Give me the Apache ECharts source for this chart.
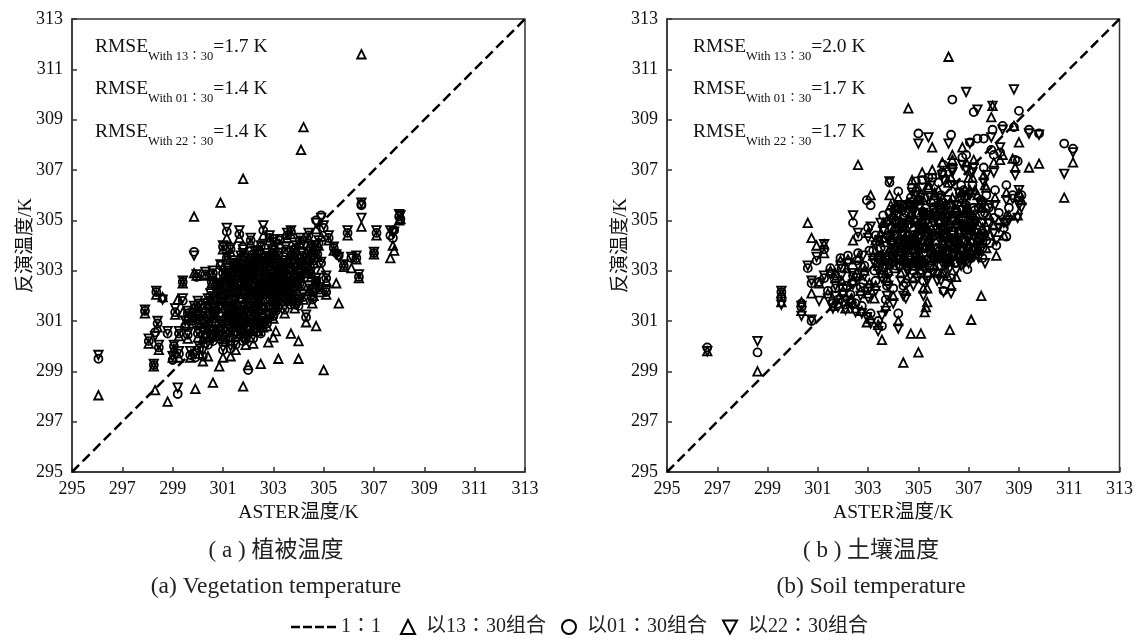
<!DOCTYPE html>
<html>
<head>
<meta charset="utf-8">
<title>chart</title>
<script src="https://cdn.jsdelivr.net/npm/echarts@6/dist/echarts.min.js"></script>
<style>
  html, body { margin: 0; padding: 0; background: #fff; }
  #main { width: 1136px; height: 640px; }
</style>
</head>
<body>
<div id="main"></div>
<script>
var tickValues = [295, 297, 299, 301, 303, 305, 307, 309, 311, 313];
var lineEnds = [295, 313];
var xName = "ASTER温度/K";
var yName = "反演温度/K";
var lineName = "1∶1";
var name1330 = "以13∶30组合";
var name0130 = "以01∶30组合";
var name2230 = "以22∶30组合";

// 植被温度: ASTER value and the three retrievals
var vegAster = [
  296.05,297.9,298.05,298.25,298.3,298.35,298.4,298.45,298.6,298.8,
  299,299.05,299.1,299.2,299.25,299.25,299.4,299.4,299.5,299.6,
  299.7,299.8,299.85,299.85,299.9,299.95,300,300,300.05,300.1,
  300.2,300.2,300.3,300.3,300.4,300.4,300.5,300.55,300.6,300.6,
  300.7,300.7,300.75,300.85,300.85,300.9,300.9,301,301,301,
  301,301.05,301.1,301.15,301.15,301.2,301.2,301.3,301.3,301.3,
  301.4,301.4,301.4,301.5,301.5,301.5,301.55,301.6,301.65,301.65,
  301.7,301.7,301.75,301.8,301.8,301.8,301.85,301.9,301.9,301.95,
  302,302,302,302.05,302.1,302.1,302.2,302.2,302.25,302.3,
  302.3,302.4,302.4,302.45,302.5,302.5,302.5,302.6,302.6,302.6,
  302.7,302.7,302.75,302.8,302.8,302.85,302.9,302.9,303,303,
  303,303,303.05,303.1,303.1,303.15,303.2,303.2,303.25,303.3,
  303.3,303.4,303.4,303.45,303.5,303.5,303.55,303.6,303.7,303.7,
  303.7,303.75,303.8,303.85,303.9,303.9,304,304,304,304.05,
  304.1,304.1,304.15,304.2,304.2,304.3,304.3,304.35,304.4,304.4,
  304.5,304.5,304.55,304.6,304.6,304.7,304.7,304.7,304.75,304.8,
  304.85,304.9,304.9,305,305.1,305.1,305.2,305.4,305.5,305.6,
  305.8,305.95,306.1,306.3,306.4,306.5,306.5,307.1,307,307.65,
  307.75,307.8,308,308.05,301.35,301.95,302.35,302.65,303.35,303.65,
  301.25,301.45,301.6,301.85,302.15,302.35,302.55,302.75,303.1,303.35,
  300.95,301.1,301.35,301.55,301.75,302.05,302.25,302.45,302.65,302.95,
  300.45,300.65,300.8,301.2,301.5,301.7,301.9,302.15,302.4,302.85,
  303.25,303.55,303.8,303.95,304.25,304.45,304.65,303.05,302.95,303.6,
  300.3,300.5,300.7,300.9,301.1,301.3,301.5,301.7,301.9,302.1,
  301.2,301.4,301.6,301.8,302,302.2,302.4,302.6,302.8,303,
  302.2,302.4,302.6,302.8,303,303.2,303.4,303.6,303.8,304,
  299.6,299.8,300,300.2,300.4,300.6,300.8,301,301.2,301.4,
  301.65,301.85,302.05,302.25,302.45,302.65,302.85,303.05,303.25,303.45,
  303.65,303.85,304.05,304.25,301.55,301.75,301.95,302.15,302.35,302.55
];
var vegWith1330 = [
  298.05,301.3,300.1,299.2,298.25,302.05,300.75,299.85,301.95,297.8,
  299.55,299.9,301.25,301.85,299.55,300.4,302.5,301.35,300.9,300.3,
  299.55,301.2,305.15,302.9,298.3,302.8,300.35,301.6,299.7,300.9,
  299.4,300.3,302.8,301.5,299.6,300.7,301.9,302.5,298.55,302.85,
  300.4,301.3,301.9,299.2,300.75,305.7,302.35,299.55,300.6,301.5,
  303.85,302.1,300.2,304.3,303.45,300.9,301.9,299.6,300.4,303.75,
  301.2,302.5,300.8,299.85,301.6,302.8,303.1,300.4,304.3,301.95,
  300.9,303.4,302.4,306.65,298.4,303.55,301.3,300.05,302.8,301.7,
  299.25,302.2,303.3,300.8,301.5,304.1,302.7,300.1,303.6,301.1,
  302.3,300.6,303.1,301.8,299.3,302.6,303.85,304.4,301.3,300.75,
  302.1,303.5,303,300.15,301.65,304.2,302.5,303.35,300.35,301.5,
  302.3,303.1,304,300.6,301.9,302.75,299.5,303.5,304.05,302.4,
  301.8,303.2,302.7,301.3,302,303.75,304.3,302.5,300.5,303.3,
  304.45,302,302.9,301.5,302.4,303.8,299.5,300.2,303.1,304.1,
  307.8,302.7,303.5,308.7,301.85,300.95,302.9,303.55,302.2,304.3,
  302.75,303.8,301.7,302,303.3,300.8,304.65,302.45,303.55,304,
  302.15,303.05,304.35,299.05,302.6,302.05,304.2,303.8,302.5,301.7,
  303.15,304.4,303.1,303.45,302.7,311.6,304.75,304.4,303.65,303.5,
  304,303.8,305,305.05,302.3,302.6,302.2,301.6,302.6,301.9,
  301,301.7,302.2,302.2,301.9,303.6,300.9,300.8,302.55,303,
  301.8,302.7,301.4,302.4,300.7,303,301,302.1,303,301.9,
  301,301.6,302.3,302.9,300.9,303,301.2,302.9,301.9,302.2,
  303,302.3,303.5,302.2,303.3,303.1,303.8,302.9,303.6,301.9,
  300.5,300.4,301,301.9,301.3,302.2,300.6,300.5,300.6,300.6,
  302.6,303.2,301.3,302.9,301.9,301.4,301.5,302.1,302.3,301.1,
  303,303.3,302.6,303.2,303.6,302.3,302.2,301.8,302.5,302.7,
  301.2,300.9,301.3,301.1,301.7,301.3,300.4,302.8,301.4,301.1,
  302.6,303,302.5,302.8,302.2,303.3,303.2,302.4,302.1,303.1,
  302.3,303.6,302.4,302.9,303,301.1,302.4,303.4,300.9,303.1
];
var vegWith0130 = [
  299.5,301.4,300.2,299.25,300.55,302.15,300.9,299.95,301.9,300.5,
  299.45,300,301.35,298.1,299.7,300.5,302.55,301.8,300.8,300.45,
  299.65,301.1,303.75,301.5,299.55,302.75,300.5,301.7,299.9,301,
  299.6,300.45,302.85,301.6,300.05,300.85,302,302.55,300.2,302.9,
  300.55,301.4,302,300.3,300.9,303.2,302.45,299.85,300.7,301.6,
  303.95,302.2,300.35,304.55,303.5,301,302,299.9,300.55,303.85,
  301.3,302.55,300.9,300.05,301.7,302.9,303.2,300.5,304.45,302.05,
  301.05,303.5,302.5,303.95,300.2,303.6,301.45,300.25,302.9,301.8,
  299.05,302.3,303.4,300.95,301.6,304.2,302.8,300.3,303.7,301.25,
  302.4,300.8,303.2,301.9,300.5,302.7,303.95,304.6,301.45,300.9,
  302.2,303.6,303.1,301.1,301.75,304.3,302.6,303.45,301.2,301.6,
  302.4,303.2,304.15,301.4,302,302.85,301.55,303.6,304.2,302.5,
  301.9,303.3,302.8,301.45,302.1,303.85,304.4,302.6,301.65,303.4,
  304.55,302.1,303,301.65,302.5,303.9,301.6,301.8,303.2,304.2,
  303.05,302.8,303.6,304.05,301.95,301.15,303,303.65,302.3,304.4,
  302.85,303.9,301.85,302.15,303.4,302.6,305,302.5,303.65,304.1,
  302.25,303.3,305.2,304.7,302.7,302.15,304.3,303.9,303.7,303.6,
  303.2,304.5,303.5,303.5,302.75,305.65,305.6,304.5,303.7,304.4,
  304.3,304.6,305.15,305.05,302.35,302.7,301.7,302.4,303.1,303,
  301.1,301.8,302.3,302.3,302,303.7,301,300.9,302.65,303.1,
  301.9,302.8,301.5,302.5,300.8,303.1,301.1,302.2,303.1,302,
  301.1,301.7,302.4,303,301,303.1,301.3,303,302,302.3,
  303.1,302.4,303.6,302.3,303.4,303.2,303.9,303,303.7,302,
  300.65,300.5,301.1,302,301.45,302.3,300.75,300.65,300.75,300.7,
  302.7,303.3,301.45,303,302,301.5,301.6,302.2,302.4,301.2,
  303.1,303.4,302.7,303.3,303.7,302.4,302.3,301.9,302.6,302.8,
  301.3,301,301.4,301.2,301.8,301.4,300.5,302.9,301.5,301.2,
  302.7,303.1,302.6,302.9,302.3,303.4,303.3,302.5,302.2,303.2,
  302.4,303.7,302.5,303,303.1,301.2,302.5,303.5,301,303.2
];
var vegWith2230 = [
  299.65,301.45,300.3,299.3,300.4,302.2,301,300.05,301.85,300.6,
  299.6,300.05,301.5,298.35,299.8,300.6,302.6,301.9,301,300.5,
  299.8,301.3,303.6,301.6,299.7,302.85,300.6,301.8,300,301.05,
  299.8,300.55,302.95,301.7,300.15,300.95,302.1,302.6,300.3,303,
  300.65,301.5,302.1,300.4,301,303.25,302.5,299.95,300.85,301.7,
  304,302.3,300.45,304.7,303.55,301.1,302.05,300,300.65,303.9,
  301.45,302.65,301,300.15,301.8,303,303.3,300.65,304.6,302.15,
  301.15,303.6,302.6,303.85,300.3,303.7,301.55,300.35,303,301.9,
  300.35,302.4,303.5,301.05,301.7,304.3,302.9,300.4,303.8,301.35,
  302.5,300.9,303.3,302,300.6,302.8,304,304.8,301.55,301,
  302.3,303.7,303.2,301.2,301.85,304.4,302.7,303.55,301.3,301.7,
  302.5,303.3,304.25,301.5,302.1,302.95,301.65,303.7,304.25,302.6,
  302,303.4,302.9,301.55,302.2,303.95,304.5,302.7,301.75,303.5,
  304.6,302.2,303.1,301.75,302.6,304,301.7,301.9,303.3,304.3,
  303.15,302.9,303.7,304.15,302.05,301.25,303.1,303.75,302.4,304.5,
  302.95,304,301.95,302.25,303.5,302.7,304.9,302.55,303.75,304.2,
  302.35,303.35,305.1,304.8,302.8,302.2,304.4,303.95,303.65,303.55,
  303.25,304.6,303.55,303.6,302.85,305.7,305.1,304.6,303.75,304.6,
  304.5,304.55,305.25,305.2,302.45,302.75,301.8,302.5,303.15,303.05,
  301.2,301.9,302.4,302.4,302.1,303.8,301.1,301,302.75,303.2,
  302,302.9,301.6,302.6,300.9,303.2,301.2,302.3,303.2,302.1,
  301.2,301.8,302.5,303.1,301.1,303.2,301.4,303.1,302.1,302.4,
  303.2,302.5,303.7,302.4,303.5,303.3,304,303.1,303.8,302.1,
  300.75,300.6,301.2,302.1,301.55,302.4,300.85,300.75,300.85,300.85,
  302.8,303.4,301.55,303.1,302.1,301.6,301.7,302.3,302.5,301.3,
  303.2,303.5,302.8,303.4,303.8,302.5,302.4,302,302.7,302.9,
  301.4,301.1,301.5,301.3,301.9,301.5,300.6,303,301.6,301.3,
  302.8,303.2,302.7,303,302.4,303.5,303.4,302.6,302.3,303.3,
  302.5,303.8,302.6,303.1,303.2,301.3,302.6,303.6,301.1,303.3
];

// 土壤温度
var soilAster = [
  296.6,298.6,299.55,299.55,300.35,300.35,300.6,300.75,300.75,300.95,
  301.05,301.25,301.25,301.4,301.5,301.6,301.7,301.8,301.9,302,
  302.1,302.2,302.3,302.4,302.4,302.5,302.6,302.6,302.7,302.75,
  302.85,302.95,303,303,303.1,303.1,303.2,303.3,303.3,303.4,
  303.4,303.55,303.55,303.6,303.7,303.8,303.85,303.85,303.9,304,
  304,304.1,304.2,304.2,304.3,304.3,304.4,304.4,304.5,304.6,
  304.6,304.7,304.7,304.8,304.8,304.9,305,305,305,305.1,
  305.1,305.2,305.2,305.25,305.3,305.35,305.4,305.4,305.55,305.6,
  305.6,305.7,305.8,305.8,305.9,305.9,306,306,306,306.1,
  306.1,306.2,306.2,306.25,306.3,306.3,306.35,306.4,306.5,306.5,
  306.6,306.7,306.7,306.8,306.9,306.9,306.95,307,307.05,307.1,
  307.2,307.2,307.35,307.35,307.5,307.5,307.6,307.6,307.7,307.8,
  307.9,307.95,308,308,308.1,308.2,308.35,308.4,308.5,308.5,
  308.75,308.8,308.95,309,309,309.1,309.4,309.8,310.8,311.15,
  303.5,303.65,303.75,303.95,304.05,304.15,304.25,304.35,304.45,304.55,
  304.65,304.75,304.85,304.95,305.05,305.15,305.25,305.35,305.45,305.65,
  305.75,305.85,305.95,306.05,306.15,306.25,306.35,306.45,306.55,306.65,
  306.75,306.85,306.95,307.05,307.15,307.25,307.45,307.55,307.65,307.85,
  304.1,304.3,304.5,304.7,304.9,305.1,305.3,305.5,305.7,305.9,
  306.1,306.3,306.5,306.7,306.9,307.1,303.9,304.4,304.8,305.2,
  303.6,303.8,304,304.2,304.4,304.6,304.8,305,305.2,305.4,
  305.6,305.8,306,306.2,306.4,306.6,306.8,307,307.2,307.4,
  304.05,304.25,304.45,304.65,304.85,305.05,305.25,305.45,305.65,305.85,
  306.05,306.25,306.45,306.65,306.85,307.05,307.25,307.55,303.45,303.7,
  301.7,301.95,302.15,302.35,302.55,302.8,303.05,303.25,303.5,303.75,
  304.55,304.75,304.95,305.15,305.35,305.55,305.75,305.95,306.15,306.35,
  306.55,306.75,306.95,307.15,307.4,307.7,308.05,308.25,308.6,308.85
];
var soilWith1330 = [
  299.8,299,302.1,301.75,301.75,301.4,304.9,304.3,302.1,304,
  302.5,304.05,303.7,302.1,303,301.6,302.7,301.7,303.4,302.2,
  301.5,303.45,301.85,304.2,302.6,301.5,307.2,303.5,302.2,301.4,
  303,300.95,302.1,304.5,306,301.1,303.6,302.4,304.2,300.85,
  303.2,300.25,302.9,304.9,301.6,302.6,306,305,303.9,302,
  303.6,304.7,301,305.9,302.9,303.9,299.35,304.5,302.2,309.45,
  303.3,300.5,305.3,302.7,304.1,306.3,299.75,303.5,305.9,300.5,
  304.6,302.3,305,301.35,301.55,301.75,304.2,306.4,307.9,303.2,
  305.2,303.9,306.2,304.6,302.9,305.7,302.9,304.1,306.9,303.5,
  305.3,311.5,304.4,300.65,302.4,306.7,307.4,303.9,302.75,305,
  304.2,303.5,306.1,304.8,305.3,307.3,304,303.6,306.2,301.05,
  305.2,307.4,306,304.2,302,305.5,304.6,306.8,303.9,305.2,
  309.1,309.55,304.8,307.3,303.6,305,307.6,304.4,305.2,306.1,
  307.45,308.75,305.2,308.1,306.1,305.8,307.1,307.25,305.9,307.3,
  304.5,303.4,305,304.2,303.1,305.5,304,304.8,303.4,305.7,
  304.3,303.2,305.1,304.6,303.7,305.4,304,303.5,304.8,306,
  303.6,305,304.2,305.6,304.5,303.4,305.9,304.2,305,303.7,
  304.9,306,303.8,305.3,304.6,306.2,304.1,305.5,306.4,304.4,
  305.6,304.9,303.5,304.3,305.8,303.3,304.7,304,305.2,303.6,
  304.5,305.7,304.9,303.9,305.5,304.2,305.6,303.6,304.2,305.8,
  304.3,303,305.2,304.7,303.6,304.1,305.9,303.3,304.9,306.3,
  303.8,305,304.5,306.5,303.7,305.3,304.2,306.7,305,303.9,
  303.9,304.9,303.4,305.6,304.2,303.2,305.3,304.4,306.1,303.5,
  304.8,303.4,305.5,304.1,306.2,305.1,303.7,304.7,304.2,302.9,
  302.9,302.6,303.1,301.9,302.9,303.2,302.5,301.9,303.6,302.7,
  302.7,306.6,302.9,306.9,302.3,307,303,307.3,302.8,307.6,
  303.6,307.9,304.2,306.7,303.8,306.3,305.9,307.4,305.2,307.1
];
var soilWith0130 = [
  299.95,299.75,301.95,302.15,301.7,301.55,303.1,302.5,301,303.4,
  302.55,303.85,302.7,302.2,303.1,301.7,302.8,301.85,303.5,302.35,
  301.65,303.6,302.05,304.9,302.8,301.7,304.35,303.7,302.35,301.6,
  303.2,305.8,302.3,304.7,305.6,301.3,303.8,302.6,304.4,301,
  303.5,300.8,303.15,305.2,301.85,302.9,306.5,305.3,304.2,302.3,
  303.9,305,301.3,306.15,303.2,304.2,302.4,304.8,302.5,304.4,
  303.6,305.6,305.6,303,304.4,306.55,304,303.8,308.45,302.9,
  304.9,302.6,305.3,303.3,303.9,302.9,304.5,306.7,305.1,303.5,
  305.5,304.2,306.5,304.9,303.2,306,302.2,304.4,307.2,303.8,
  305.6,305.2,304.7,303.4,302.7,308.4,309.8,304.2,303.3,305.3,
  304.5,303.8,306.4,305.1,305.6,307.6,303.05,303.9,308.1,304.4,
  309.3,305.5,308.25,304.5,305.8,304.9,308.25,307.1,304.2,305.5,
  307.8,308.6,305.1,307.6,304,305.3,308.75,304.7,304.35,306.4,
  306,308.7,307.35,309.35,305.95,306,308.6,308.45,308.05,307.85,
  303.6,304.6,303.2,305.1,304.4,303.5,304.9,305.4,304.1,303.3,
  305.6,304.2,303.7,305.3,304.7,303.9,305.9,304.5,303.1,304.4,
  305.2,303.8,305.7,304.3,303.5,305.2,304.6,303.3,304.8,306.1,
  303.9,304.7,305.4,303.7,306.1,305,304.3,303.5,305.3,304.1,
  303.2,304.1,305.3,305.9,303.6,304.8,303.9,305.7,304.4,304.9,
  303.7,304.3,305.4,305.1,304.2,303.5,304.4,305.1,303.8,304.6,
  303.1,304.4,303.6,305.5,304.9,303.3,304.6,305.8,303.7,304.5,
  305.3,303.6,305.7,304.1,305,303.6,306.2,304.4,303.8,305.5,
  304.6,303.5,305.2,304,303.4,305.8,304.7,303.2,304.4,305.6,
  303.5,304.8,304.1,305.9,303.4,304.6,305.4,303.9,303.6,304.3,
  302.3,303.1,302.4,302.5,303.4,302.5,303.8,303,303.9,302.4,
  303.2,306.3,303.4,306.6,302.8,306.7,303.5,306.9,303.3,307.1,
  304.1,307.5,304.7,306.4,304.3,306,306.2,307.7,305.5,307.4
];
var soilWith2230 = [
  299.8,300.2,301.65,302.2,301.2,301.6,303.2,302.6,301.05,303.55,
  301.8,304.05,302.8,301.9,302.85,301.5,302.4,301.55,303.2,302.05,
  301.45,303.3,301.7,305.2,302.45,301.35,304.5,303.2,302,301.3,
  302.8,301.15,301.9,304.3,304.75,300.9,303.4,302.2,304,300.6,
  303,301.2,302.7,304.6,301.4,302.4,306.55,304.7,303.6,301.7,
  303.3,304.4,300.7,305.6,302.6,303.6,302,304.1,301.9,304.7,
  303,303.9,305,302.4,303.8,306,304.3,303.2,308.05,303.3,
  304.3,302,304.7,303,304.3,302.6,303.9,308.3,305.5,302.9,
  304.9,303.6,305.9,304.3,302.6,305.4,302.15,303.8,306.6,303.2,
  305,308.05,304.1,303.1,302.1,306.4,307,303.6,303,304.7,
  303.9,303.2,305.8,304.5,310.1,307,304.3,303.3,308.05,304.7,
  304.9,307.1,309.4,303.9,305.2,304.3,304.3,306.5,304.6,304.9,
  308.3,309.55,304.5,306.9,304.2,304.7,308.6,304.9,304.9,305.8,
  305.85,310.2,305.1,305.6,306.2,305.5,308.45,308.4,306.85,307.7,
  304.9,303.8,304.3,303.5,305.4,304.7,303.1,304.2,305.6,304.9,
  303.5,305.7,304.4,303.3,305.5,304.7,303.4,305.2,305.9,303.6,
  304.6,305.4,303.3,304.9,305.8,304,303.6,305.6,304.2,303.3,
  305.4,303.4,304.6,306,303.6,304.5,305.7,304.9,303.3,305.6,
  304.4,305.6,304.2,303.4,304.9,305.9,305.2,304.1,303.5,305.3,
  305.1,304.8,303.7,304.3,305.9,304.9,303.3,304.4,305.3,304.1,
  303.5,304.9,304,305.2,304.2,303.8,305.4,304.1,305.3,304,
  304.6,305.5,303.7,305.1,304.4,306.1,303.5,305.2,304.7,304.1,
  305.2,304.1,303.7,304.8,305.6,304.3,303.9,305.1,303.4,304.7,
  304,305.3,303.6,304.5,305.5,303.5,304.9,305.6,304.2,303.4,
  302,302.8,301.8,302.9,302.7,303.6,302.3,303.3,303.4,302,
  303,306.1,302.7,306.3,303.4,306.5,302.6,306.8,303.7,306.9,
  303.9,307.2,303.9,306.9,303.5,306.8,305.6,307.9,305,306.8
];

var serif = '"Liberation Serif","Noto Sans CJK SC",serif';

function zip(xs, ys) {
  return xs.map(function (x, i) {
    return [x, ys[i]];
  });
}

function rmse(label, value, left, top) {
  return {
    text: "{m|RMSE}{s|With " + label + "}{m|=" + value + " K}",
    left: left,
    top: top,
    padding: 0,
    textStyle: {
      rich: {
        m: { fontFamily: serif, fontSize: 19.5, fontWeight: "normal", color: "#111", lineHeight: 24 },
        s: { fontFamily: serif, fontSize: 12.5, fontWeight: "normal", color: "#111", lineHeight: 24, verticalAlign: "bottom", padding: [0, 0, -4, 0] },
      },
    },
  };
}

function caption(text, x, top, size) {
  return {
    text: text,
    left: x,
    top: top,
    padding: 0,
    textAlign: "center",
    textStyle: { fontFamily: serif, fontSize: size, fontWeight: "normal", color: "#222" },
  };
}

function xAxis(index) {
  return {
    type: "value",
    gridIndex: index,
    min: 295,
    max: 313,
    name: xName,
    nameLocation: "middle",
    nameGap: 31,
    nameMoveOverlap: false,
    nameTextStyle: { fontFamily: serif, fontSize: 19.5, color: "#111" },
    axisLine: { lineStyle: { color: "#333", width: 1.5 } },
    axisTick: { inside: true, length: 5, customValues: tickValues, lineStyle: { color: "#333", width: 1.5 } },
    axisLabel: { customValues: tickValues, margin: 8, fontFamily: serif, fontSize: 18, color: "#111" },
    splitLine: { show: false },
  };
}

function yAxis(index) {
  return {
    type: "value",
    gridIndex: index,
    min: 295,
    max: 313,
    name: yName,
    nameLocation: "middle",
    nameGap: 36,
    nameMoveOverlap: false,
    nameTextStyle: { fontFamily: serif, fontSize: 19, color: "#111" },
    axisLine: { lineStyle: { color: "#333", width: 1.5 } },
    axisTick: { inside: true, length: 5, customValues: tickValues, lineStyle: { color: "#333", width: 1.5 } },
    axisLabel: { customValues: tickValues, margin: 9, fontFamily: serif, fontSize: 18, color: "#111" },
    splitLine: { show: false },
  };
}

function scatter(name, index, xs, ys, symbol, size, rotate) {
  return {
    type: "scatter",
    name: name,
    xAxisIndex: index,
    yAxisIndex: index,
    data: zip(xs, ys),
    symbol: symbol,
    symbolSize: size,
    symbolRotate: rotate,
    silent: true,
    itemStyle: { color: "transparent", borderColor: "#000", borderWidth: 1.8, opacity: 1 },
  };
}

function oneToOne(index) {
  return {
    type: "line",
    name: lineName,
    xAxisIndex: index,
    yAxisIndex: index,
    data: zip(lineEnds, lineEnds),
    showSymbol: false,
    symbol: "none",
    silent: true,
    z: 5,
    lineStyle: { color: "#000", width: 2.5, type: [10, 5] },
    itemStyle: { color: "#000" },
  };
}

var option = {
  backgroundColor: "#fff",
  animation: false,
  title: [
    rmse("13∶30", "1.7", 95, 35),
    rmse("01∶30", "1.4", 95, 77),
    rmse("22∶30", "1.4", 95, 120),
    rmse("13∶30", "2.0", 693, 35),
    rmse("01∶30", "1.7", 693, 77),
    rmse("22∶30", "1.7", 693, 120),
    caption("( a ) 植被温度", 276, 539, 23),
    caption("(a) Vegetation temperature", 276, 575, 23.5),
    caption("( b ) 土壤温度", 871, 539, 23),
    caption("(b) Soil temperature", 871, 575, 23.5),
  ],
  legend: [
    {
      data: [{ name: lineName, icon: "path://M0 0h9v2.4H0z M12 0h9v2.4h-9z M24 0h9v2.4h-9z M36 0h9v2.4h-9z", itemStyle: { color: "#000", borderWidth: 0 } }],
      left: 291,
      top: 617,
      padding: 0,
      itemWidth: 45,
      itemHeight: 14,
      itemGap: 0,
      selectedMode: false,
      textStyle: { fontFamily: serif, fontSize: 20, color: "#222" },
    },
    {
      data: [name1330, name0130, { name: name2230, icon: "path://M0 0H12L6 11Z" }],
      left: 400,
      top: 617,
      padding: 0,
      itemWidth: 14,
      itemHeight: 14,
      itemGap: 15,
      selectedMode: false,
      textStyle: { fontFamily: serif, fontSize: 20, color: "#222", padding: [0, 0, 0, 6] },
    },
  ],
  grid: [
    { left: 72, top: 19, width: 453, height: 453, show: true, borderColor: "#333", borderWidth: 1.5, backgroundColor: "#fff" },
    { left: 667, top: 19, width: 455, height: 453, show: true, borderColor: "#333", borderWidth: 1.5, backgroundColor: "#fff" },
  ],
  xAxis: [xAxis(0), xAxis(1)],
  yAxis: [yAxis(0), yAxis(1)],
  series: [
    scatter(name1330, 0, vegAster, vegWith1330, "triangle", 8.5, 0),
    scatter(name0130, 0, vegAster, vegWith0130, "circle", 8, 0),
    scatter(name2230, 0, vegAster, vegWith2230, "triangle", 8.5, 180),
    oneToOne(0),
    scatter(name1330, 1, soilAster, soilWith1330, "triangle", 8.5, 0),
    scatter(name0130, 1, soilAster, soilWith0130, "circle", 8, 0),
    scatter(name2230, 1, soilAster, soilWith2230, "triangle", 8.5, 180),
    oneToOne(1),
  ],
};

var myChart = echarts.init(document.getElementById("main"));
myChart.setOption(option);
</script>
</body>
</html>
